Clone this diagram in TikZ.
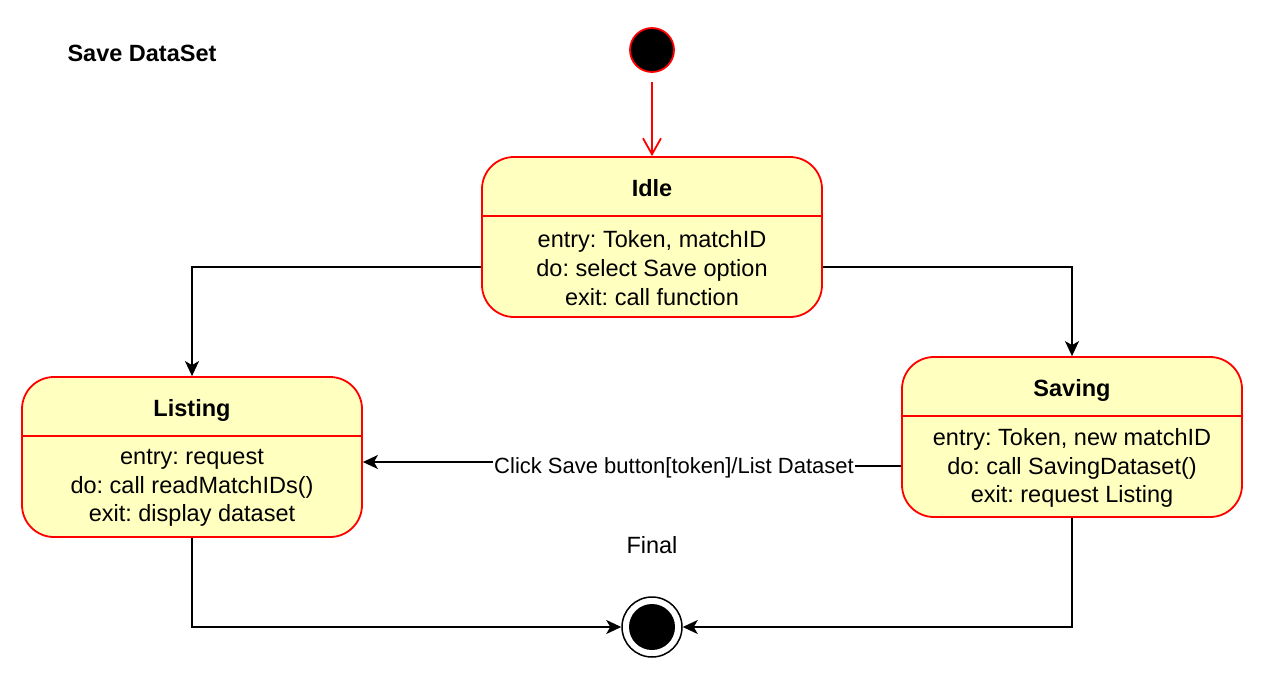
\documentclass[tikz,border=0pt]{standalone}
\usepackage{fontspec}
\setmainfont{Liberation Sans}
\usetikzlibrary{arrows.meta,calc}
\definecolor{stfill}{HTML}{FFFFC0}
\definecolor{stred}{HTML}{FF0000}
\frenchspacing
\begin{document}
\begin{tikzpicture}[x=1pt,y=-1pt,
  every node/.style={font=\fontsize{23.5}{28.8}\selectfont},
  statebox/.style={draw=stred,fill=stfill,line width=1.8pt,rounded corners=32pt,
    minimum width=340pt,minimum height=160pt,inner sep=0pt},
  divline/.style={draw=stred,line width=1.8pt},
  sttitle/.style={font=\fontsize{23.5}{28.8}\selectfont\bfseries,inner sep=0pt,text height=17pt,text depth=0pt},
  stbody/.style={align=center,inner sep=0pt},
  arr/.style={draw=black,line width=1.8pt,-{Stealth[length=15pt,width=14pt,inset=4pt]}},
  initarr/.style={draw=stred,line width=1.8pt,-{Straight Barb[length=16pt,width=18pt,line width=1.8pt]}},
]
\useasboundingbox (0,0) rectangle (1264,678);
\fill[white] (0,0) rectangle (1264,678);

\node[font=\fontsize{23.5}{28.8}\selectfont\bfseries,inner sep=0pt] (title) at (142,53) {Save DataSet};

% initial state
\node[circle,fill=black,draw=stred,line width=1.8pt,minimum size=44pt,inner sep=0pt] (init) at (652,50) {};

% states
\node[statebox] (idle) at (652,237) {};
\draw[divline] ([yshift=-60pt]idle.north west) -- ([yshift=-60pt]idle.north east);
\node[sttitle] (idletitle) at (652,188) {Idle};
\node[stbody] (idlebody) at (652,268) {entry: Token, matchID\\do: select Save option\\exit: call function};

\node[statebox] (listing) at (192,457) {};
\draw[divline] ([yshift=-60pt]listing.north west) -- ([yshift=-60pt]listing.north east);
\node[sttitle] (listingtitle) at (192,408) {Listing};
\node[stbody] (listingbody) at (192,488) {entry: request\\do: call readMatchIDs()\\exit: display dataset};

\node[statebox] (saving) at (1072,437) {};
\draw[divline] ([yshift=-60pt]saving.north west) -- ([yshift=-60pt]saving.north east);
\node[sttitle] (savingtitle) at (1072,388) {Saving};
\node[stbody] (savingbody) at (1072,468) {entry: Token, new matchID\\do: call SavingDataset()\\exit: request Listing};

% final state
\node[circle,draw=black,line width=1.5pt,fill=white,minimum size=60pt,inner sep=0pt] (final) at (652,627) {};
\node[circle,fill=black,minimum size=46pt,inner sep=0pt] (finaldot) at (final) {};
\node[inner sep=0pt] (finallabel) at (652,545) {Final};

% connectors
\draw[initarr,shorten <=9pt] (init) -- (idle.north);
\draw[arr] (idle.west |- 0,267) -| (listing.north);
\draw[arr] (idle.east |- 0,267) -| (saving.north);
\coordinate (jog) at (674,462);
\draw[arr] (saving.west |- 0,466) -| (jog) -- (jog -| listing.east);
\node[fill=white,inner sep=1pt,font=\fontsize{22}{26}\selectfont] (trlabel) at (674,468) {Click Save button[token]/List Dataset};
\draw[arr] (listing.south) |- (final.west);
\draw[arr] (saving.south) |- (final.east);
\end{tikzpicture}
\end{document}
